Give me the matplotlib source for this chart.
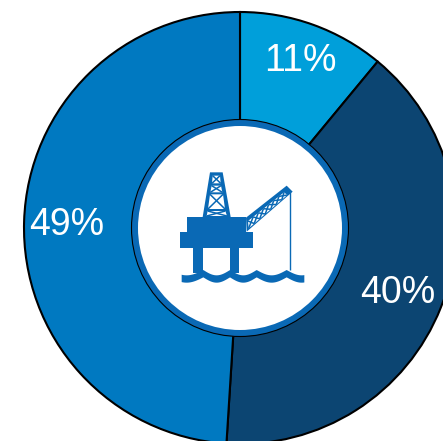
import numpy as np
import matplotlib
matplotlib.use("Agg")
import matplotlib.pyplot as plt
from matplotlib.patches import Circle, Polygon

plt.rcParams['font.family'] = ['Liberation Sans', 'DejaVu Sans']

categories = ["A", "B", "C"]
values = [11, 40, 49]
colors = ["#009FDA", "#0C4572", "#0079C1"]
labels = ["11%", "40%", "49%"]

W, H = 443, 441
fig = plt.figure(figsize=(W / 100, H / 100), dpi=100)
ax = fig.add_axes([0, 0, 1, 1])

cx, cy, R = 240, H - 228, 216
ax.pie(values, colors=colors, startangle=90, counterclock=False,
       center=(cx, cy), radius=R, frame=True,
       wedgeprops=dict(edgecolor="black", linewidth=1.5))
ax.set_aspect("equal")
ax.set_xlim(0, W)
ax.set_ylim(0, H)
ax.axis("off")

ax.add_patch(Circle((cx, cy), 108.5, fc="#0A69B5", ec="black", lw=0.8, zorder=3))
ax.add_patch(Circle((cx, cy), 102, fc="white", ec="none", zorder=4))

for (x, y), t in zip([(300.5, 61), (398, 293), (66.5, 225)], labels):
    ax.text(x, H - y, t, color="white", fontsize=27, ha="center", va="center", zorder=5)

BLUE = "#0A69B5"
def P(x, y):
    return 130 + x / 3, H - (115 + y / 3)
def poly(pts, fc=BLUE):
    ax.add_patch(Polygon([P(*p) for p in pts], closed=True, fc=fc, ec="none", zorder=6))
def line(a, b, c=BLUE, lw=1.0):
    (x0, y0), (x1, y1) = P(*a), P(*b)
    ax.plot([x0, x1], [y0, y1], color=c, lw=lw, zorder=7, solid_capstyle="butt")

# derrick
poly([(240, 172), (278, 172), (302, 306), (218, 306)])
for lv in [((248, 182), (270, 182), (272, 205), (246, 205)),
           ((245, 212), (273, 212), (277, 232), (241, 232)),
           ((240, 238), (279, 238), (285, 282), (234, 282)),
           ((233, 288), (286, 288), (291, 303), (230, 303))]:
    poly(lv, "white")
    line(lv[0], lv[2], BLUE, 1.1)
    line(lv[1], lv[3], BLUE, 1.1)
# deck and legs
poly([(172, 306), (348, 306), (348, 352), (368, 352), (368, 398), (150, 398), (150, 352), (172, 352)])
poly([(190, 398), (218, 398), (218, 475), (190, 475)])
poly([(300, 398), (328, 398), (328, 475), (300, 475)])
# crane
poly([(348, 308), (470, 212), (488, 230), (350, 350)])
a0, a1 = np.array((354, 318)), np.array((462, 232))
b0, b1 = np.array((356, 340)), np.array((472, 240))
poly([a0, a1, b1, b0], "white")
n = 7
for i in range(n):
    f0, f1 = i / n, (i + 1) / n
    line(a0 + (a1 - a0) * f0, b0 + (b1 - b0) * f1, BLUE, 1.1)
    line(a0 + (a1 - a0) * f1, b0 + (b1 - b0) * f0, BLUE, 1.1)
line((479, 228), (479, 465), BLUE, 1.0)
# water
crests = np.array([120, 220, 300, 380, 470, 560])
xs = np.linspace(155, 523, 160)
idx = np.clip(np.searchsorted(crests, xs) - 1, 0, len(crests) - 2)
t = (xs - crests[idx]) / (crests[idx + 1] - crests[idx])
top = 465 + 16 * np.sin(np.pi * t)
bottom = top + 22
poly(list(zip(xs, top)) + list(zip(xs[::-1], bottom[::-1])))

fig.savefig("out.png", dpi=100)
